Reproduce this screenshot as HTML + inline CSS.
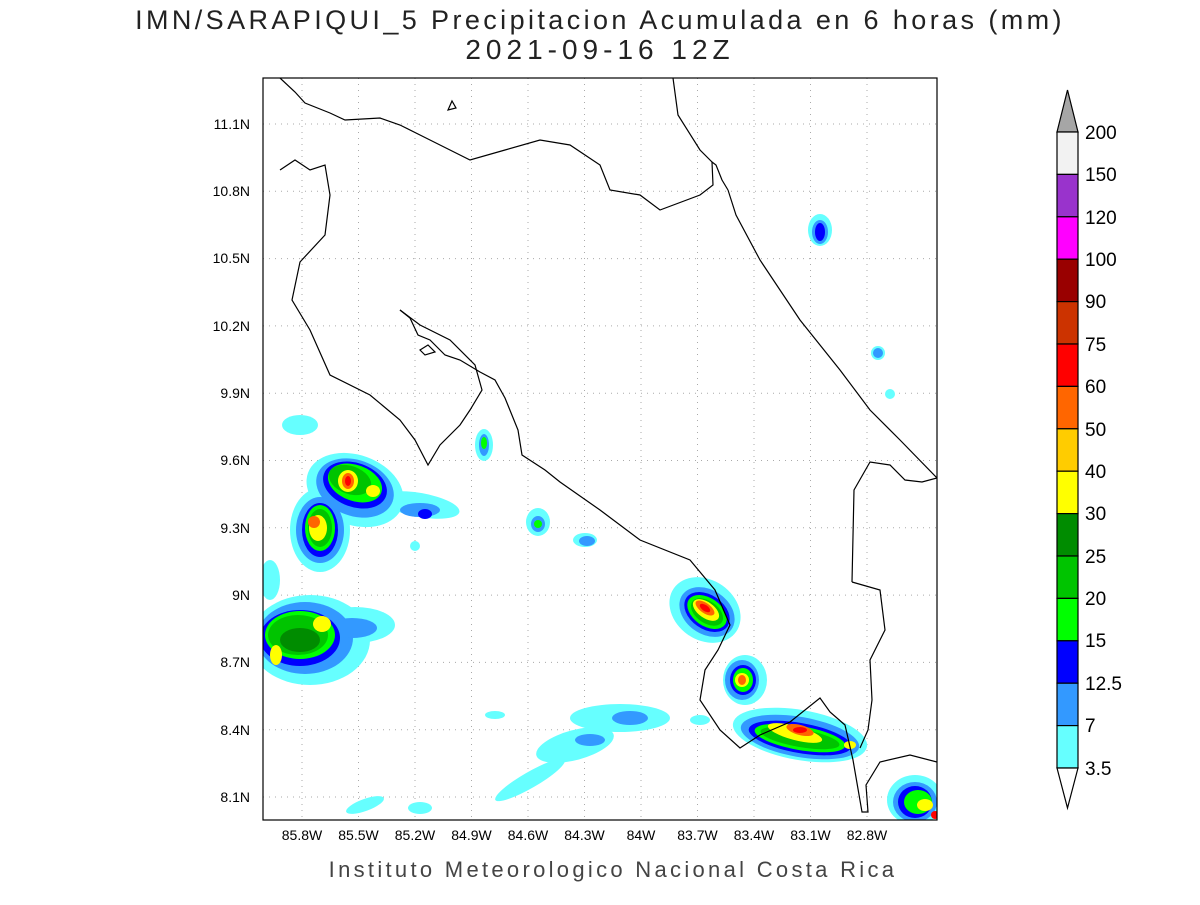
<!DOCTYPE html>
<html><head><meta charset="utf-8"><style>
body{margin:0;background:#fff;}
svg text{font-family:"Liberation Sans",sans-serif;}
</style></head><body>
<svg width="1200" height="900" viewBox="0 0 1200 900" xmlns="http://www.w3.org/2000/svg">
<rect width="1200" height="900" fill="#fff"/>
<text x="600" y="29" font-size="27" text-anchor="middle" fill="#222" letter-spacing="3.4">IMN/SARAPIQUI_5 Precipitacion Acumulada en 6 horas (mm)</text>
<text x="600" y="59" font-size="28" text-anchor="middle" fill="#222" letter-spacing="5">2021-09-16 12Z</text>
<defs><clipPath id="c"><rect x="263" y="78" width="674" height="742"/></clipPath></defs>
<g clip-path="url(#c)">
<g stroke="#aaa" stroke-dasharray="1,5" stroke-width="1">
<line x1="302" y1="78" x2="302" y2="820"/><line x1="358.5" y1="78" x2="358.5" y2="820"/><line x1="415" y1="78" x2="415" y2="820"/><line x1="471.5" y1="78" x2="471.5" y2="820"/><line x1="528" y1="78" x2="528" y2="820"/><line x1="584.5" y1="78" x2="584.5" y2="820"/><line x1="641" y1="78" x2="641" y2="820"/><line x1="697.5" y1="78" x2="697.5" y2="820"/><line x1="754" y1="78" x2="754" y2="820"/><line x1="810.5" y1="78" x2="810.5" y2="820"/><line x1="867" y1="78" x2="867" y2="820"/>
<line x1="263" y1="124" x2="937" y2="124"/><line x1="263" y1="191.3" x2="937" y2="191.3"/><line x1="263" y1="258.6" x2="937" y2="258.6"/><line x1="263" y1="325.9" x2="937" y2="325.9"/><line x1="263" y1="393.2" x2="937" y2="393.2"/><line x1="263" y1="460.5" x2="937" y2="460.5"/><line x1="263" y1="527.8" x2="937" y2="527.8"/><line x1="263" y1="595.1" x2="937" y2="595.1"/><line x1="263" y1="662.4" x2="937" y2="662.4"/><line x1="263" y1="729.7" x2="937" y2="729.7"/><line x1="263" y1="797" x2="937" y2="797"/>
</g>
<g fill="#66ffff">
<ellipse cx="300" cy="425" rx="18" ry="10"/><ellipse cx="355" cy="490" rx="50" ry="35" transform="rotate(20 355 490)"/><ellipse cx="320" cy="530" rx="30" ry="42"/><ellipse cx="420" cy="505" rx="40" ry="12" transform="rotate(10 420 505)"/>
<ellipse cx="310" cy="640" rx="60" ry="45"/><ellipse cx="355" cy="625" rx="40" ry="18"/><ellipse cx="270" cy="580" rx="10" ry="20"/>
<ellipse cx="484" cy="445" rx="9" ry="16"/><ellipse cx="538" cy="522" rx="12" ry="14"/><ellipse cx="585" cy="540" rx="12" ry="7"/><ellipse cx="415" cy="546" rx="5" ry="5"/>
<ellipse cx="820" cy="230" rx="12" ry="16"/><ellipse cx="878" cy="353" rx="7" ry="7"/><ellipse cx="890" cy="394" rx="5" ry="5"/>
<ellipse cx="705" cy="610" rx="38" ry="30" transform="rotate(35 705 610)"/><ellipse cx="745" cy="680" rx="22" ry="25"/><ellipse cx="800" cy="735" rx="68" ry="25" transform="rotate(10 800 735)"/>
<ellipse cx="915" cy="800" rx="28" ry="25"/><ellipse cx="620" cy="718" rx="50" ry="14"/><ellipse cx="575" cy="745" rx="40" ry="15" transform="rotate(-15 575 745)"/>
<ellipse cx="530" cy="780" rx="40" ry="8" transform="rotate(-30 530 780)"/><ellipse cx="365" cy="805" rx="20" ry="6" transform="rotate(-20 365 805)"/><ellipse cx="420" cy="808" rx="12" ry="6"/><ellipse cx="495" cy="715" rx="10" ry="4"/><ellipse cx="700" cy="720" rx="10" ry="5"/>
</g>
<g fill="#3399ff">
<ellipse cx="355" cy="488" rx="40" ry="28" transform="rotate(20 355 488)"/><ellipse cx="320" cy="530" rx="24" ry="33"/><ellipse cx="420" cy="510" rx="20" ry="7"/>
<ellipse cx="305" cy="638" rx="48" ry="36"/><ellipse cx="352" cy="628" rx="25" ry="10"/><ellipse cx="484" cy="445" rx="5" ry="11"/><ellipse cx="538" cy="524" rx="7" ry="8"/><ellipse cx="587" cy="541" rx="8" ry="5"/>
<ellipse cx="820" cy="232" rx="8" ry="12"/><ellipse cx="878" cy="353" rx="5" ry="5"/>
<ellipse cx="707" cy="612" rx="30" ry="22" transform="rotate(35 707 612)"/><ellipse cx="742" cy="680" rx="17" ry="20"/><ellipse cx="800" cy="737" rx="60" ry="20" transform="rotate(10 800 737)"/><ellipse cx="915" cy="802" rx="22" ry="20"/>
<ellipse cx="630" cy="718" rx="18" ry="7"/><ellipse cx="590" cy="740" rx="15" ry="6"/>
</g>
<g fill="#0000ff">
<ellipse cx="355" cy="485" rx="33" ry="22" transform="rotate(20 355 485)"/><ellipse cx="320" cy="530" rx="18" ry="27"/><ellipse cx="425" cy="514" rx="7" ry="5"/>
<ellipse cx="300" cy="638" rx="40" ry="28"/><ellipse cx="707" cy="612" rx="25" ry="17" transform="rotate(35 707 612)"/><ellipse cx="743" cy="680" rx="13" ry="15"/><ellipse cx="800" cy="738" rx="52" ry="15" transform="rotate(10 800 738)"/><ellipse cx="915" cy="802" rx="17" ry="16"/><ellipse cx="820" cy="232" rx="5" ry="9"/>
</g>
<g fill="#00ff00">
<ellipse cx="355" cy="483" rx="28" ry="18" transform="rotate(20 355 483)"/><ellipse cx="320" cy="528" rx="15" ry="23"/><ellipse cx="300" cy="635" rx="35" ry="24"/><ellipse cx="707" cy="612" rx="22" ry="14" transform="rotate(35 707 612)"/><ellipse cx="743" cy="680" rx="10" ry="12"/><ellipse cx="800" cy="738" rx="46" ry="12" transform="rotate(10 800 738)"/><ellipse cx="918" cy="802" rx="14" ry="12"/><ellipse cx="484" cy="443" rx="3" ry="6"/><ellipse cx="538" cy="524" rx="4" ry="4"/>
</g>
<g fill="#00c400">
<ellipse cx="350" cy="480" rx="22" ry="14" transform="rotate(20 350 480)"/><ellipse cx="320" cy="528" rx="12" ry="19"/><ellipse cx="298" cy="635" rx="30" ry="20"/><ellipse cx="707" cy="612" rx="18" ry="11" transform="rotate(35 707 612)"/><ellipse cx="800" cy="738" rx="40" ry="9" transform="rotate(10 800 738)"/>
</g>
<g fill="#008c00"><ellipse cx="300" cy="640" rx="20" ry="12"/></g>
<g fill="#ffff00">
<ellipse cx="348" cy="481" rx="10" ry="11"/><ellipse cx="373" cy="491" rx="7" ry="6"/><ellipse cx="318" cy="528" rx="9" ry="13"/><ellipse cx="322" cy="624" rx="9" ry="8"/><ellipse cx="276" cy="655" rx="6" ry="10"/><ellipse cx="706" cy="610" rx="15" ry="8" transform="rotate(35 706 610)"/><ellipse cx="742" cy="680" rx="7" ry="7"/><ellipse cx="795" cy="733" rx="28" ry="7" transform="rotate(15 795 733)"/><ellipse cx="850" cy="745" rx="6" ry="4"/><ellipse cx="925" cy="805" rx="8" ry="6"/>
</g>
<g fill="#ff6600"><ellipse cx="348" cy="481" rx="6" ry="8"/><ellipse cx="314" cy="522" rx="6" ry="6"/><ellipse cx="705" cy="608" rx="11" ry="5" transform="rotate(35 705 608)"/><ellipse cx="742" cy="680" rx="4" ry="5"/><ellipse cx="800" cy="730" rx="14" ry="5" transform="rotate(15 800 730)"/></g>
<g fill="#ff0000"><ellipse cx="348" cy="481" rx="3" ry="5"/><ellipse cx="705" cy="608" rx="6" ry="3" transform="rotate(35 705 608)"/><ellipse cx="800" cy="730" rx="7" ry="3"/><circle cx="935" cy="815" r="4"/></g>
<g fill="none" stroke="#000" stroke-width="1.2">
<polyline points="280,78 295,92 305,103 330,113 345,120 380,118 400,125 430,140 470,160 505,150 540,140 570,145 600,165 610,190 640,195 660,210 700,195 713,185 712,162 716,165 722,180 728,190"/>
<polyline points="673,78 678,115 700,150 712,162"/>
<polyline points="728,190 736,215 760,260 800,320 840,370 870,410 900,440 937,478"/>
<polyline points="280,170 295,160 310,170 325,165 330,195 325,235 300,262 292,300 310,330 330,375 370,395 400,420 415,440 428,465 440,445 460,425 470,410 482,390 475,365 450,340 420,325 400,310"/>
<polyline points="400,310 410,318 418,335 430,340 445,355 460,360 480,372 495,380 505,398 518,430 522,455 545,470 560,482 600,510 640,540 690,560 715,590 730,625 718,650 705,670 700,700 720,730 740,748 760,735 790,722 820,698 830,712 845,725 853,760 862,812 868,812 866,785 880,762 910,755 937,762"/>
<polyline points="852,582 854,490 870,462 890,465 905,480 922,482 937,478"/>
<polyline points="852,582 880,590 885,630 870,660 872,700 868,730 860,748"/>
<polygon points="420,350 428,345 435,352 425,355"/>
<polygon points="448,110 452,101 456,108"/>
</g>
</g>
<rect x="263" y="78" width="674" height="742" fill="none" stroke="#000" stroke-width="1.2"/>
<g font-size="14" fill="#000" text-anchor="end">
<text x="250" y="129">11.1N</text><text x="250" y="196">10.8N</text><text x="250" y="263">10.5N</text><text x="250" y="331">10.2N</text><text x="250" y="398">9.9N</text><text x="250" y="465">9.6N</text><text x="250" y="533">9.3N</text><text x="250" y="600">9N</text><text x="250" y="667">8.7N</text><text x="250" y="735">8.4N</text><text x="250" y="802">8.1N</text>
</g>
<g font-size="14" fill="#000" text-anchor="middle">
<text x="302" y="840">85.8W</text><text x="358.5" y="840">85.5W</text><text x="415" y="840">85.2W</text><text x="471.5" y="840">84.9W</text><text x="528" y="840">84.6W</text><text x="584.5" y="840">84.3W</text><text x="641" y="840">84W</text><text x="697.5" y="840">83.7W</text><text x="754" y="840">83.4W</text><text x="810.5" y="840">83.1W</text><text x="867" y="840">82.8W</text>
</g>
<text x="613" y="877" font-size="22" text-anchor="middle" fill="#444" letter-spacing="3.3">Instituto Meteorologico Nacional Costa Rica</text>
<g stroke="#000" stroke-width="1.2">
<polygon points="1057,132 1067.5,90 1078,132" fill="#a6a6a6"/>
<rect x="1057" y="132" width="21" height="42.4" fill="#f2f2f2"/>
<rect x="1057" y="174.4" width="21" height="42.4" fill="#9933cc"/>
<rect x="1057" y="216.8" width="21" height="42.4" fill="#ff00ff"/>
<rect x="1057" y="259.2" width="21" height="42.4" fill="#990000"/>
<rect x="1057" y="301.6" width="21" height="42.4" fill="#cc3300"/>
<rect x="1057" y="344" width="21" height="42.4" fill="#ff0000"/>
<rect x="1057" y="386.4" width="21" height="42.4" fill="#ff6600"/>
<rect x="1057" y="428.8" width="21" height="42.4" fill="#ffcc00"/>
<rect x="1057" y="471.2" width="21" height="42.4" fill="#ffff00"/>
<rect x="1057" y="513.6" width="21" height="42.4" fill="#008c00"/>
<rect x="1057" y="556" width="21" height="42.4" fill="#00c400"/>
<rect x="1057" y="598.4" width="21" height="42.4" fill="#00ff00"/>
<rect x="1057" y="640.8" width="21" height="42.4" fill="#0000ff"/>
<rect x="1057" y="683.2" width="21" height="42.4" fill="#3399ff"/>
<rect x="1057" y="725.6" width="21" height="42.4" fill="#66ffff"/>
<polygon points="1057,768 1067.5,808 1078,768" fill="#fff"/>
</g>
<g font-size="19" fill="#000">
<text x="1085" y="139">200</text><text x="1085" y="181">150</text><text x="1085" y="224">120</text><text x="1085" y="266">100</text><text x="1085" y="308">90</text><text x="1085" y="351">75</text><text x="1085" y="393">60</text><text x="1085" y="436">50</text><text x="1085" y="478">40</text><text x="1085" y="520">30</text><text x="1085" y="563">25</text><text x="1085" y="605">20</text><text x="1085" y="647">15</text><text x="1085" y="690">12.5</text><text x="1085" y="732">7</text><text x="1085" y="775">3.5</text>
</g>
</svg>
</body></html>
